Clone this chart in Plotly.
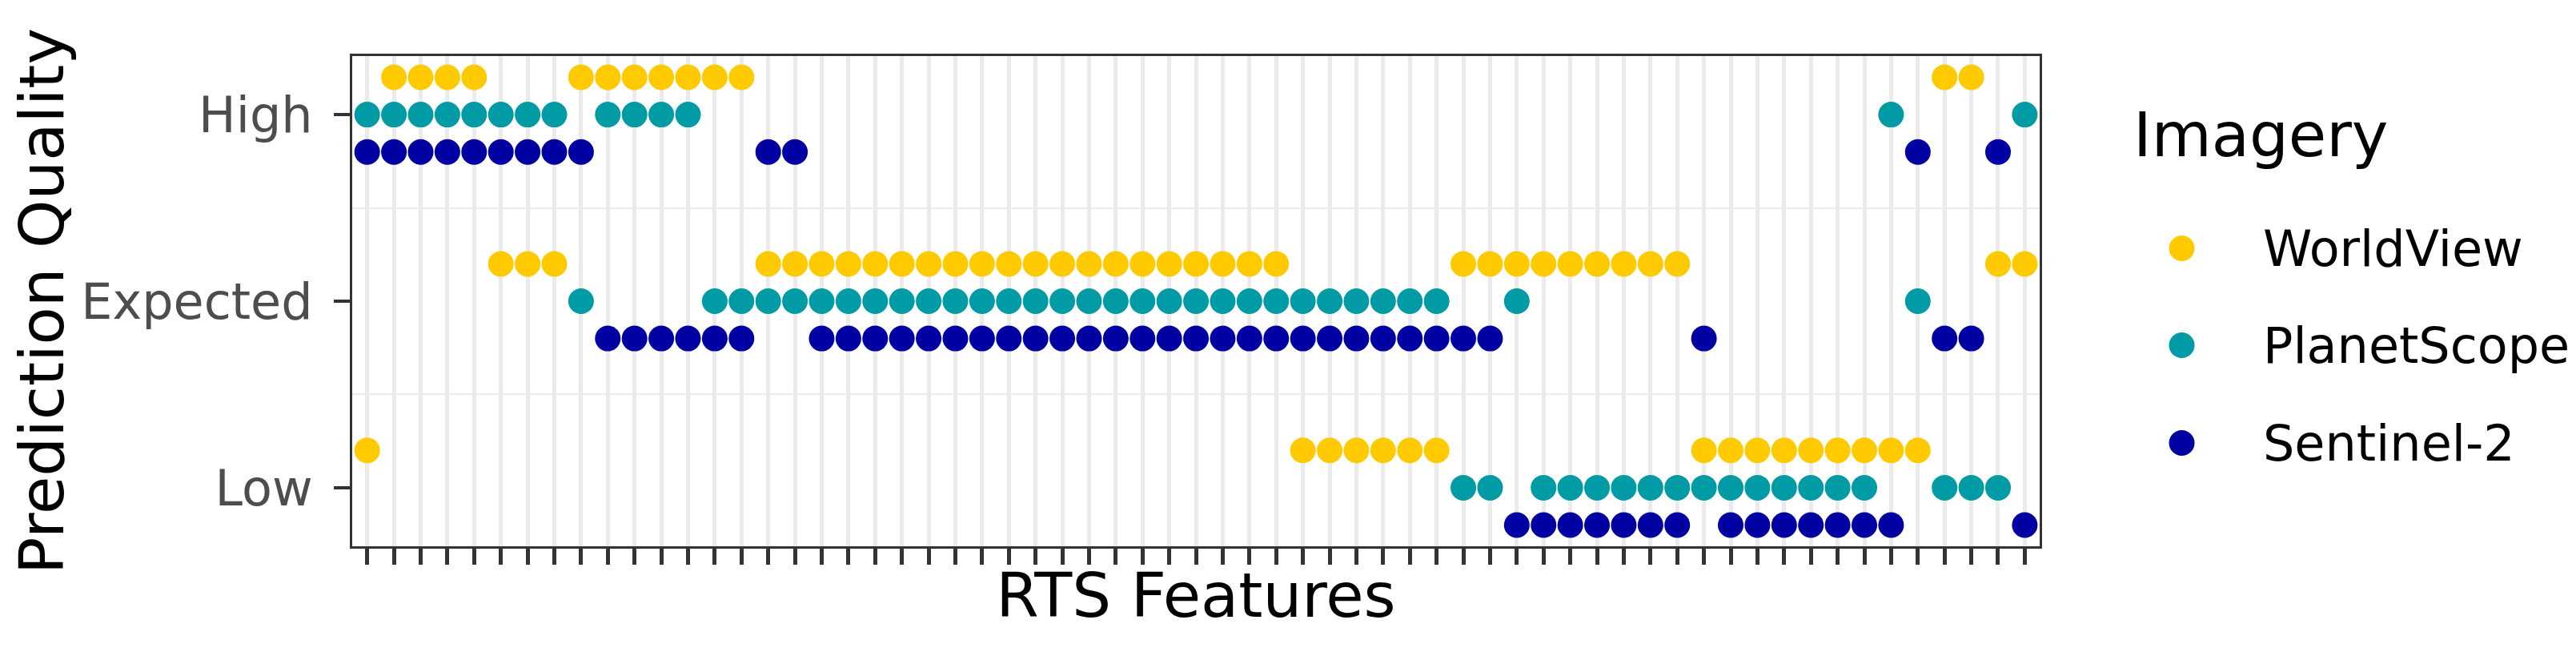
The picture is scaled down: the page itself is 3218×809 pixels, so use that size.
import plotly.graph_objects as go

# RTS features (63 of them, no tick labels on the axis)
features = list(range(1, 64))

levels = ["Low", "Expected", "High"]
code_to_level = {"L": "Low", "E": "Expected", "H": "High"}

# prediction quality per feature, one list per imagery source
worldview = [
    "L", "H", "H", "H", "H", "E", "E", "E", "H", "H",
    "H", "H", "H", "H", "H", "E", "E", "E", "E", "E",
    "E", "E", "E", "E", "E", "E", "E", "E", "E", "E",
    "E", "E", "E", "E", "E", "L", "L", "L", "L", "L",
    "L", "E", "E", "E", "E", "E", "E", "E", "E", "E",
    "L", "L", "L", "L", "L", "L", "L", "L", "L", "H",
    "H", "E", "E",
]
planetscope = [
    "H", "H", "H", "H", "H", "H", "H", "H", "E", "H",
    "H", "H", "H", "E", "E", "E", "E", "E", "E", "E",
    "E", "E", "E", "E", "E", "E", "E", "E", "E", "E",
    "E", "E", "E", "E", "E", "E", "E", "E", "E", "E",
    "E", "L", "L", "E", "L", "L", "L", "L", "L", "L",
    "L", "L", "L", "L", "L", "L", "L", "H", "E", "L",
    "L", "L", "H",
]
sentinel2 = [
    "H", "H", "H", "H", "H", "H", "H", "H", "H", "E",
    "E", "E", "E", "E", "E", "H", "H", "E", "E", "E",
    "E", "E", "E", "E", "E", "E", "E", "E", "E", "E",
    "E", "E", "E", "E", "E", "E", "E", "E", "E", "E",
    "E", "E", "E", "L", "L", "L", "L", "L", "L", "L",
    "E", "L", "L", "L", "L", "L", "L", "L", "H", "E",
    "E", "H", "L",
]

imagery = ["WorldView", "PlanetScope", "Sentinel-2"]
series = [worldview, planetscope, sentinel2]
colors = ["#FFCA00", "#009BA5", "#0000A2"]
dodge = [0.2, 0.0, -0.2]

FONT = "DejaVu Sans"

fig = go.Figure()

for name, vals, col, off in zip(imagery, series, colors, dodge):
    y = [levels.index(code_to_level[v]) + 1 + off for v in vals]
    fig.add_trace(go.Scatter(
        x=features, y=y, mode="markers", name=name,
        marker=dict(size=32, color=col, line=dict(width=0)),
        showlegend=False,
    ))

# legend drawn on a small side axis (pixel-like units)
leg_y = [372, 251, 129]
for name, col, ly in zip(imagery, colors, leg_y):
    fig.add_trace(go.Scatter(
        x=[148], y=[ly], mode="markers", xaxis="x2", yaxis="y2",
        marker=dict(size=32, color=col, line=dict(width=0)),
        showlegend=False, hoverinfo="skip",
    ))
    fig.add_annotation(
        x=247, y=ly, xref="x2", yref="y2", text=name, showarrow=False,
        xanchor="left", yanchor="middle",
        font=dict(family=FONT, size=62, color="black"),
    )
fig.add_annotation(
    x=85, y=514, xref="x2", yref="y2", text="Imagery", showarrow=False,
    xanchor="left", yanchor="middle",
    font=dict(family=FONT, size=77, color="black"),
)

fig.update_layout(
    width=3218, height=809,
    margin=dict(l=432, r=10, t=62, b=135),
    paper_bgcolor="white", plot_bgcolor="white",
    font=dict(family=FONT),
    xaxis=dict(
        domain=[0, 0.7594], range=[0.44, 63.56],
        tickmode="array", tickvals=features, ticktext=["" for _ in features],
        ticks="outside", ticklen=20, tickwidth=5, tickcolor="#333333",
        showgrid=True, gridcolor="#EBEBEB", gridwidth=5, zeroline=False,
        showline=True, mirror=True, linecolor="#333333", linewidth=3,
        title=dict(text="RTS Features", font=dict(family=FONT, size=77, color="black"), standoff=10),
    ),
    yaxis=dict(
        range=[0.686, 3.314],
        tickmode="array", tickvals=[1, 2, 3], ticktext=levels,
        ticks="outside", ticklen=20, tickwidth=4, tickcolor="#333333",
        tickfont=dict(family=FONT, size=62, color="#4D4D4D"),
        ticklabelstandoff=14,
        showgrid=False, zeroline=False,
        minor=dict(tickmode="array", tickvals=[1.5, 2.5], showgrid=True,
                   gridcolor="#EBEBEB", gridwidth=2, ticks=""),
        showline=True, mirror=True, linecolor="#333333", linewidth=3,
        title=dict(text="Prediction Quality", font=dict(family=FONT, size=77, color="black"), standoff=18),
    ),
    xaxis2=dict(domain=[0.77, 1.0], range=[0, 638.5], visible=False, fixedrange=True),
    yaxis2=dict(domain=[0, 1], range=[0, 612], visible=False, anchor="x2", fixedrange=True),
)

fig.write_html("out.html")
